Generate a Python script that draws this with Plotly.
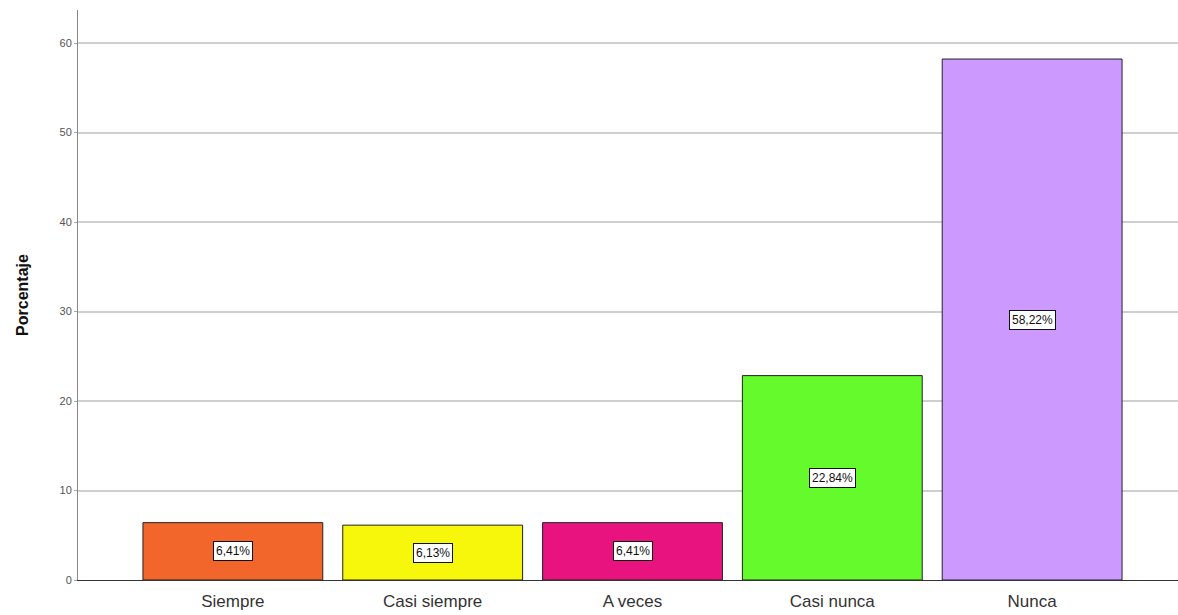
import plotly.graph_objects as go

categorias = ["Siempre", "Casi siempre", "A veces", "Casi nunca", "Nunca"]
porcentajes = [6.41, 6.13, 6.41, 22.84, 58.22]
etiquetas = ["6,41%", "6,13%", "6,41%", "22,84%", "58,22%"]
colores = ["#F2652B", "#F7F70C", "#E8137F", "#64FA2C", "#CC99FF"]
ticks_y = [0, 10, 20, 30, 40, 50, 60]

x_idx = list(range(len(categorias)))

fig = go.Figure()
fig.add_trace(go.Bar(
    x=x_idx,
    y=porcentajes,
    width=0.9,
    marker=dict(color=colores, line=dict(color="#222222", width=1)),
    hoverinfo="skip",
))

# value boxes centred on each bar
for i, (v, t) in enumerate(zip(porcentajes, etiquetas)):
    fig.add_annotation(
        x=i, y=v / 2, text=t, showarrow=False,
        font=dict(family="Liberation Sans, Arial, sans-serif", size=12, color="#111111"),
        bgcolor="white", bordercolor="#111111", borderwidth=1, borderpad=2,
    )

fig.update_layout(
    width=1178, height=615,
    margin=dict(l=78, r=0, t=10, b=35),
    paper_bgcolor="white", plot_bgcolor="white",
    showlegend=False,
    font=dict(family="Liberation Sans, Arial, sans-serif"),
    xaxis=dict(
        range=[-0.775, 4.73],
        tickmode="array", tickvals=x_idx, ticktext=categorias,
        tickfont=dict(size=17, color="#333333"),
        ticklabelstandoff=6,
        showline=True, linecolor="#333333", linewidth=1,
        showgrid=False, zeroline=False, ticks="",
    ),
    yaxis=dict(
        range=[0, 63.7],
        tickmode="array", tickvals=ticks_y,
        tickfont=dict(size=11, color="#555555"),
        showline=True, linecolor="#888888", linewidth=1,
        showgrid=True, gridcolor="#CFCFCF", gridwidth=1.5,
        zeroline=False, ticks="outside", ticklen=3, tickcolor="#AAAAAA",
        title=dict(text="<b>Porcentaje</b>", font=dict(size=16, color="#111111"), standoff=26),
    ),
)

fig.write_html("out.html")
